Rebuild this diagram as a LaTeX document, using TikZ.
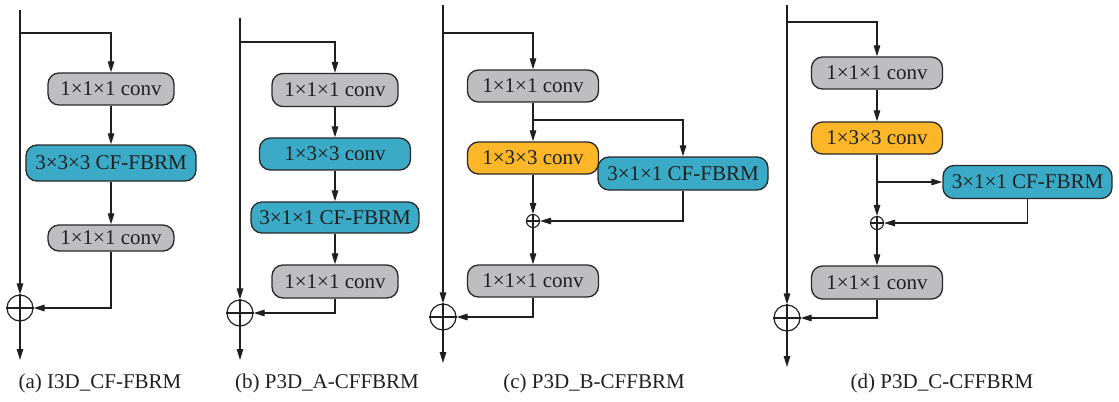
\documentclass[tikz,border=0pt]{standalone}
\usepackage{fontspec}
\setmainfont{Liberation Serif}
\usetikzlibrary{arrows.meta}
\definecolor{boxgray}{RGB}{190,190,192}
\definecolor{boxcyan}{RGB}{58,170,198}
\definecolor{boxorange}{RGB}{252,183,40}
\definecolor{edgegray}{RGB}{40,40,40}
\tikzset{
  basebox/.style={draw=edgegray, line width=1.3bp, rounded corners=11bp, inner sep=0pt,
    font=\fontsize{21bp}{25bp}\selectfont, text=black!88},
  gbox/.style={basebox, fill=boxgray},
  cbox/.style={basebox, fill=boxcyan},
  obox/.style={basebox, fill=boxorange},
  arr/.style={draw=black!88, line width=1.2bp, -{Triangle[length=11bp,width=6.5bp]}},
  plain/.style={draw=black!88, line width=1.2bp},
  bigsum/.style={circle, draw=black!88, line width=1.2bp, minimum size=26bp, inner sep=0pt},
  smallsum/.style={circle, draw=black!88, line width=1.1bp, minimum size=13bp, inner sep=0pt},
  caption/.style={font=\fontsize{21bp}{25bp}\selectfont, text=black!88}
}
\newcommand{\crossin}[1]{\draw[plain] (#1.north) -- (#1.south) (#1.west) -- (#1.east);}
\begin{document}
\begin{tikzpicture}[x=1bp, y=-1bp]
\useasboundingbox (0,0) rectangle (1119,401);

% ---------- (a) ----------
\coordinate (aTop) at (20,10);
\coordinate (aBr) at (20,33);
\coordinate (aOut) at (20,360);
\node[gbox, minimum width=126bp, minimum height=32bp] (a1) at (111,89) {1×1×1 conv};
\node[cbox, minimum width=170bp, minimum height=36bp] (a2) at (111,163) {3×3×3 CF-FBRM};
\node[gbox, minimum width=126bp, minimum height=26bp] (a3) at (111,238) {1×1×1 conv};
\node[bigsum] (aP) at (20,308) {};
\crossin{aP}
\draw[arr] (aTop) -- (aP.north);
\draw[arr] (aBr) -| (a1.north);
\draw[arr] (a1.south) -- (a2.north);
\draw[arr] (a2.south) -- (a3.north);
\draw[arr] (a3.south) |- (aP.east);
\draw[arr] (aP.south) -- (aOut);
\node[caption] (capa) at (100,383) {(a) I3D\_CF-FBRM};

% ---------- (b) ----------
\coordinate (bTop) at (240,18);
\coordinate (bBr) at (240,42);
\coordinate (bOut) at (240,360);
\node[gbox, minimum width=126bp, minimum height=33bp] (b1) at (335,90) {1×1×1 conv};
\node[cbox, minimum width=151bp, minimum height=32bp] (b2) at (335,154) {1×3×3 conv};
\node[cbox, minimum width=168bp, minimum height=31bp] (b3) at (335,217.5) {3×1×1 CF-FBRM};
\node[gbox, minimum width=126bp, minimum height=33bp] (b4) at (335,281.5) {1×1×1 conv};
\node[bigsum] (bP) at (240,313) {};
\crossin{bP}
\draw[arr] (bTop) -- (bP.north);
\draw[arr] (bBr) -| (b1.north);
\draw[arr] (b1.south) -- (b2.north);
\draw[arr] (b2.south) -- (b3.north);
\draw[arr] (b3.south) -- (b4.north);
\draw[arr] (b4.south) |- (bP.east);
\draw[arr] (bP.south) -- (bOut);
\node[caption] (capb) at (327,383) {(b) P3D\_A-CFFBRM};

% ---------- (c) ----------
\coordinate (cTop) at (443,5);
\coordinate (cBr) at (443,33);
\coordinate (cOut) at (443,363);
\node[gbox, minimum width=131bp, minimum height=32bp] (c1) at (533,86) {1×1×1 conv};
\node[obox, minimum width=131bp, minimum height=32bp] (c2) at (533,158) {1×3×3 conv};
\node[cbox, minimum width=170bp, minimum height=33bp] (c3) at (683,173.5) {3×1×1 CF-FBRM};
\node[smallsum] (cp) at (533,221) {};
\crossin{cp}
\node[gbox, minimum width=131bp, minimum height=32bp] (c4) at (533,281) {1×1×1 conv};
\node[bigsum] (cP) at (443,317) {};
\crossin{cP}
\coordinate (cSplit) at (533,120);
\draw[arr] (cTop) -- (cP.north);
\draw[arr] (cBr) -| (c1.north);
\draw[arr] (c1.south) -- (c2.north);
\draw[arr] (cSplit) -| (c3.north);
\draw[arr] (c2.south) -- (cp.north);
\draw[arr] (c3.south) |- (cp.east);
\draw[arr] (cp.south) -- (c4.north);
\draw[arr] (c4.south) |- (cP.east);
\draw[arr] (cP.south) -- (cOut);
\node[caption] (capc) at (594,383) {(c) P3D\_B-CFFBRM};

% ---------- (d) ----------
\coordinate (dTop) at (787,5);
\coordinate (dBr) at (787,22);
\coordinate (dOut) at (787,367);
\node[gbox, minimum width=131bp, minimum height=32bp] (d1) at (877,73) {1×1×1 conv};
\node[obox, minimum width=131bp, minimum height=32bp] (d2) at (877,138) {1×3×3 conv};
\node[cbox, minimum width=169bp, minimum height=33bp] (d3) at (1027.5,182) {3×1×1 CF-FBRM};
\node[smallsum] (dp) at (877,223) {};
\crossin{dp}
\node[gbox, minimum width=131bp, minimum height=33bp] (d4) at (877,282.5) {1×1×1 conv};
\node[bigsum] (dP) at (787,318) {};
\crossin{dP}
\coordinate (dSplit) at (877,182);
\draw[arr] (dTop) -- (dP.north);
\draw[arr] (dBr) -| (d1.north);
\draw[arr] (d1.south) -- (d2.north);
\draw[arr] (d2.south) -- (dp.north);
\draw[arr] (dSplit) -- (d3.west);
\draw[arr] (d3.south) |- (dp.east);
\draw[arr] (dp.south) -- (d4.north);
\draw[arr] (d4.south) |- (dP.east);
\draw[arr] (dP.south) -- (dOut);
\node[caption] (capd) at (942,383) {(d) P3D\_C-CFFBRM};
\end{tikzpicture}
\end{document}
